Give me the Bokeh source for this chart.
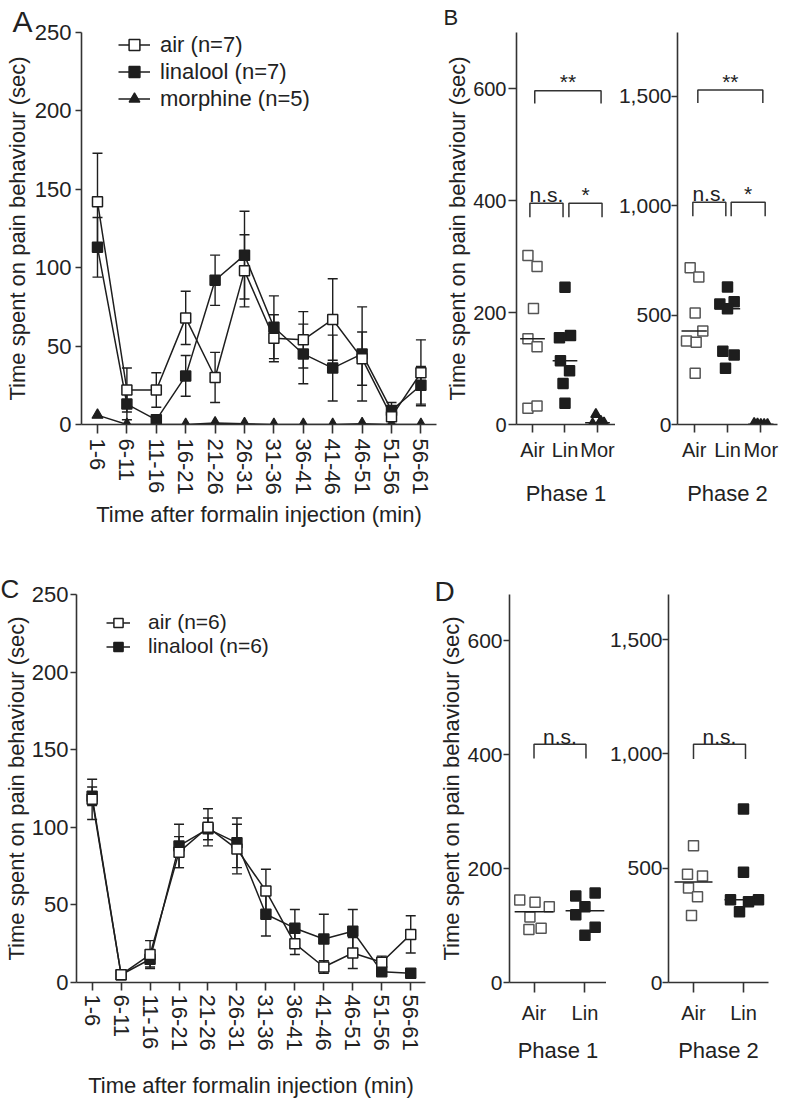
import numpy as np
from bokeh.plotting import figure
from bokeh.layouts import row, column
from bokeh.models import (Range1d, FixedTicker, Whisker, TeeHead, ColumnDataSource,
                          Legend, LegendItem, NumeralTickFormatter)
from bokeh.core.properties import value
from bokeh.embed import file_html
from bokeh.resources import INLINE

# ---------------- data ----------------
intervals = ["1-6", "6-11", "11-16", "16-21", "21-26", "26-31",
             "31-36", "36-41", "41-46", "46-51", "51-56", "56-61"]

# Panel A (mean, SEM)
a_air = [142, 22, 22, 68, 30, 98, 55, 54, 67, 42, 5, 33]
a_air_sem = [31, 14, 11, 17, 16, 23, 15, 18, 26, 17, 5, 21]
a_lin = [113, 13, 3, 31, 92, 108, 62, 45, 36, 45, 9, 25]
a_lin_sem = [19, 10, 3, 13, 16, 28, 20, 19, 21, 30, 5, 12]
a_mor = [6, 0, 0, 0, 1, 0.5, 0, 0, 0, 0.5, 0, 0]

# Panel C (mean, SEM)
c_air = [118, 5, 18, 84, 100, 86, 59, 25, 10, 19, 13, 31]
c_air_sem = [13, 2, 9, 10, 12, 16, 14, 7, 4, 10, 4, 12]
c_lin = [120, 5, 15, 88, 99, 90, 44, 35, 28, 33, 7, 6]
c_lin_sem = [6, 2, 5, 14, 7, 16, 14, 12, 16, 14, 2, 1]

groups3 = ["Air", "Lin", "Mor"]
groups2 = ["Air", "Lin"]

# Panel B, individual animals
b1_air = [302, 282, 207, 153, 139, 29, 33]
b1_lin = [245, 159, 155, 114, 96, 73, 38]
b1_mor = [18, 6, 3, 1, 0]
b2_air = [716, 674, 509, 427, 381, 376, 234]
b2_lin = [628, 560, 550, 528, 335, 317, 257]
b2_mor = [5, 3, 1, 0, 0]

# Panel D, individual animals
d1_air = [145, 141, 133, 115, 95, 93]
d1_lin = [157, 152, 133, 119, 97, 83]
d2_air = [599, 474, 466, 414, 375, 293]
d2_lin = [759, 483, 362, 362, 353, 310]

# horizontal scatter of the dots (category units)
b1_air_dx = [-0.14, 0.14, 0.03, -0.14, 0.14, -0.14, 0.14]
b1_lin_dx = [0.0, 0.17, -0.17, -0.14, 0.14, -0.06, 0.0]
b1_mor_dx = [-0.05, 0.1, 0.2, -0.15, 0.05]
b2_air_dx = [-0.12, 0.14, 0.03, 0.26, -0.23, 0.06, 0.03]
b2_lin_dx = [0.0, 0.2, -0.23, 0.0, -0.14, 0.2, -0.06]
b2_mor_dx = [-0.2, -0.1, 0.0, 0.1, 0.2]
d1_air_dx = [-0.28, 0.02, 0.30, -0.08, 0.14, -0.10]
d1_lin_dx = [0.2, -0.18, 0.0, -0.18, 0.2, 0.0]
d2_air_dx = [0.0, -0.12, 0.18, -0.10, 0.08, -0.04]
d2_lin_dx = [0.0, 0.0, -0.26, 0.30, 0.10, -0.08]

# significance brackets: (x start, x end, leg bottom, top, label)
b1_brackets = [(1.07, 3.11, 573, 596, "**"), (0.92, 1.94, 370, 395, "n.s."),
               (2.12, 3.14, 370, 395, "*")]
b2_brackets = [(1.11, 3.06, 1468, 1527, "**"), (0.96, 1.95, 951, 1015, "n.s."),
               (2.11, 3.13, 951, 1015, "*")]
d1_brackets = [(1.0, 2.02, 393, 418, "n.s.")]
d2_brackets = [(1.0, 2.04, 978, 1043, "n.s.")]

# ---------------- style ----------------
FONT = "Liberation Sans"
INK = "#1e1e1e"
AXC = "#333333"
TXT = "#222222"
OPEN_LINE = "#555555"
FS = "22px"


def base_fig(w, h, xr, yr, bl, br, bt, bb):
    p = figure(width=w, height=h, x_range=Range1d(*xr), y_range=Range1d(*yr),
               output_backend="svg", toolbar_location=None,
               min_border_left=bl, min_border_right=br,
               min_border_top=bt, min_border_bottom=bb)
    p.grid.visible = False
    p.outline_line_color = None
    for ax in (p.xaxis[0], p.yaxis[0]):
        ax.axis_line_color = AXC
        ax.axis_line_width = 1.6
        ax.major_tick_line_color = AXC
        ax.major_tick_line_width = 1.6
        ax.minor_tick_line_color = None
        ax.major_tick_in = 0
        ax.major_label_text_font = FONT
        ax.major_label_text_font_size = FS
        ax.major_label_text_color = TXT
        ax.axis_label_text_font = FONT
        ax.axis_label_text_font_size = FS
        ax.axis_label_text_font_style = "normal"
        ax.axis_label_text_color = TXT
    return p


def panel_letter(p, txt, size, offset, standoff, valign="bottom"):
    t = p.title
    t.text = txt
    t.align = "left"
    t.offset = offset
    t.standoff = standoff
    t.vertical_align = valign
    t.text_font = FONT
    t.text_font_size = size
    t.text_font_style = "normal"
    t.text_color = TXT


def time_axes(p):
    p.xaxis.ticker = FixedTicker(ticks=list(range(len(intervals))))
    p.xaxis.major_label_overrides = {i: s for i, s in enumerate(intervals)}
    p.xaxis.major_label_orientation = "vertical"
    p.xaxis.axis_label = "Time after formalin injection (min)"
    p.yaxis.ticker = FixedTicker(ticks=[0, 50, 100, 150, 200, 250])
    p.yaxis.axis_label = "Time spent on pain behaviour (sec)"


def whiskers(p, x, y, sem):
    y = np.asarray(y, float)
    e = np.asarray(sem, float)
    src = ColumnDataSource(dict(x=x, lo=y - e, hi=y + e))
    p.add_layout(Whisker(source=src, base="x", lower="lo", upper="hi", dimension="height",
                         line_color=INK, line_width=1.4,
                         upper_head=TeeHead(size=10, line_color=INK, line_width=1.4),
                         lower_head=TeeHead(size=10, line_color=INK, line_width=1.4)))


def dot_axes(p, groups, ticks, phase, ylab):
    p.xaxis.ticker = FixedTicker(ticks=list(range(1, len(groups) + 1)))
    p.xaxis.major_label_overrides = {i + 1: g for i, g in enumerate(groups)}
    p.xaxis.major_label_text_font_size = "20px"
    p.xaxis.axis_label = phase
    p.yaxis.ticker = FixedTicker(ticks=ticks)
    p.yaxis.formatter = NumeralTickFormatter(format="0,0")
    if ylab:
        p.yaxis.axis_label = "Time spent on pain behaviour (sec)"
    else:
        p.yaxis.major_label_text_font_size = "21px"
        p.yaxis.major_label_standoff = 0
        p.yaxis.major_tick_out = 6


def dots(p, pos, vals, dx, marker, fill, line):
    x = pos + np.asarray(dx, float)
    p.scatter(x, vals, marker=marker, size=10, fill_color=fill, line_color=line, line_width=1.5)
    m = float(np.median(vals))
    p.segment(x0=[pos - 0.38], y0=[m], x1=[pos + 0.38], y1=[m], line_color=INK, line_width=1.5)


def brackets(p, specs, lift_px, frame_h):
    per_px = (p.y_range.end - p.y_range.start) / frame_h
    for x0, x1, ylo, yhi, lab in specs:
        p.line([x0, x0, x1, x1], [ylo, yhi, yhi, ylo], line_color=AXC, line_width=1.5)
        p.text(x=[(x0 + x1) / 2], y=[yhi + lift_px * per_px], text=[lab], text_align="center",
               text_baseline="alphabetic", text_font=value(FONT),
               text_font_size="21px", text_color=TXT)


def legend(p, items, loc, gw, gh, fs, standoff):
    leg = Legend(items=items, location=loc, orientation="vertical",
                 glyph_width=gw, glyph_height=gh, label_height=gh, spacing=0,
                 padding=0, margin=0, label_standoff=standoff,
                 border_line_color=None, background_fill_alpha=0,
                 label_text_font=FONT, label_text_font_size=fs, label_text_color=TXT)
    p.add_layout(leg)


xt = np.arange(len(intervals))

# ---------------- Panel A ----------------
pa = base_fig(440, 548, (-0.544, 11.53), (0, 250), 81, 4, 29, 124)
time_axes(pa)
pa.xaxis.major_tick_out = 9
pa.xaxis.major_label_standoff = 5
pa.xaxis.axis_label_standoff = 4
pa.yaxis.major_tick_out = 6
pa.yaxis.major_label_standoff = 4
pa.yaxis.axis_label_standoff = 2
whiskers(pa, xt, a_lin, a_lin_sem)
whiskers(pa, xt, a_air, a_air_sem)
l_mor = pa.line(xt, a_mor, line_color=INK, line_width=1.5)
l_lin = pa.line(xt, a_lin, line_color=INK, line_width=1.5)
l_air = pa.line(xt, a_air, line_color=INK, line_width=1.5)
s_mor = pa.scatter(xt, a_mor, marker="triangle", size=11, fill_color=INK, line_color=INK, line_width=1.2)
s_lin = pa.scatter(xt, a_lin, marker="square", size=10, fill_color=INK, line_color=INK, line_width=1.5)
s_air = pa.scatter(xt, a_air, marker="square", size=10, fill_color="white", line_color=INK, line_width=1.5)
legend(pa, [LegendItem(label="air (n=7)", renderers=[l_air, s_air]),
            LegendItem(label="linalool (n=7)", renderers=[l_lin, s_lin]),
            LegendItem(label="morphine (n=5)", renderers=[l_mor, s_mor])],
       (37, 312), 32, 27, "22px", 10)
panel_letter(pa, "A", "30px", -69, -10)

# ---------------- Panel B ----------------
pb1 = base_fig(175, 548, (0.508, 3.554), (0, 700), 76, 0, 32, 124)
dot_axes(pb1, groups3, [0, 200, 400, 600], "Phase 1", True)
pb1.xaxis.major_tick_out = 8
pb1.xaxis.major_label_standoff = 6
pb1.xaxis.axis_label_standoff = 17
pb1.yaxis.major_label_text_font_size = "20px"
pb1.yaxis.major_tick_out = 8
pb1.yaxis.major_label_standoff = 2
pb1.yaxis.axis_label_standoff = 0
dots(pb1, 1, b1_air, b1_air_dx, "square", "white", OPEN_LINE)
dots(pb1, 2, b1_lin, b1_lin_dx, "square", INK, INK)
dots(pb1, 3, b1_mor, b1_mor_dx, "triangle", INK, INK)
brackets(pb1, b1_brackets, 9, 392)
panel_letter(pb1, "B", "22px", -73, 2, "top")

pb2 = base_fig(170, 548, (0.5, 3.5), (0, 1790), 59, 8, 32, 124)
dot_axes(pb2, groups3, [0, 500, 1000, 1500], "Phase 2", False)
pb2.xaxis.major_tick_out = 8
pb2.xaxis.major_label_standoff = 6
pb2.xaxis.axis_label_standoff = 17
dots(pb2, 1, b2_air, b2_air_dx, "square", "white", OPEN_LINE)
dots(pb2, 2, b2_lin, b2_lin_dx, "square", INK, INK)
dots(pb2, 3, b2_mor, b2_mor_dx, "triangle", INK, INK)
brackets(pb2, b2_brackets, 9, 392)

# ---------------- Panel C ----------------
pc = base_fig(436, 552, (-0.54, 11.51), (0, 250), 70, 11, 46, 112)
time_axes(pc)
pc.xaxis.major_tick_out = 8
pc.xaxis.major_label_standoff = 4
pc.xaxis.axis_label_standoff = 19
pc.yaxis.major_tick_out = 6
pc.yaxis.major_label_standoff = 2
pc.yaxis.axis_label_standoff = 0
whiskers(pc, xt, c_lin, c_lin_sem)
whiskers(pc, xt, c_air, c_air_sem)
lc_lin = pc.line(xt, c_lin, line_color=INK, line_width=1.5)
lc_air = pc.line(xt, c_air, line_color=INK, line_width=1.5)
sc_lin = pc.scatter(xt, c_lin, marker="square", size=10, fill_color=INK, line_color=INK, line_width=1.5)
sc_air = pc.scatter(xt, c_air, marker="square", size=10, fill_color="white", line_color=INK, line_width=1.5)
legend(pc, [LegendItem(label="air (n=6)", renderers=[lc_air, sc_air]),
            LegendItem(label="linalool (n=6)", renderers=[lc_lin, sc_lin])],
       (30, 324), 24, 23, "21px", 18)
panel_letter(pc, "C", "26px", -76, -19)

# ---------------- Panel D ----------------
pd1 = base_fig(170, 552, (0.519, 2.423), (0, 681), 71, 0, 46, 112)
dot_axes(pd1, groups2, [0, 200, 400, 600], "Phase 1", True)
pd1.xaxis.major_tick_out = 10
pd1.xaxis.major_label_standoff = 9
pd1.xaxis.axis_label_standoff = 11
pd1.yaxis.major_label_text_font_size = "21px"
pd1.yaxis.major_tick_out = 6
pd1.yaxis.major_label_standoff = 1
pd1.yaxis.axis_label_standoff = 0
dots(pd1, 1, d1_air, d1_air_dx, "square", "white", OPEN_LINE)
dots(pd1, 2, d1_lin, d1_lin_dx, "square", INK, INK)
brackets(pd1, d1_brackets, 8, 394)
panel_letter(pd1, "D", "28px", -75, -24)

pd2 = base_fig(179, 552, (0.5, 2.5), (0, 1698), 59, 17, 46, 112)
dot_axes(pd2, groups2, [0, 500, 1000, 1500], "Phase 2", False)
pd2.xaxis.major_tick_out = 10
pd2.xaxis.major_label_standoff = 9
pd2.xaxis.axis_label_standoff = 11
dots(pd2, 1, d2_air, d2_air_dx, "square", "white", OPEN_LINE)
dots(pd2, 2, d2_lin, d2_lin_dx, "square", INK, INK)
brackets(pd2, d2_brackets, 8, 394)

layout = column(row(pa, pb1, pb2), row(pc, pd1, pd2))
open("out.html", "w").write(file_html(layout, INLINE))
